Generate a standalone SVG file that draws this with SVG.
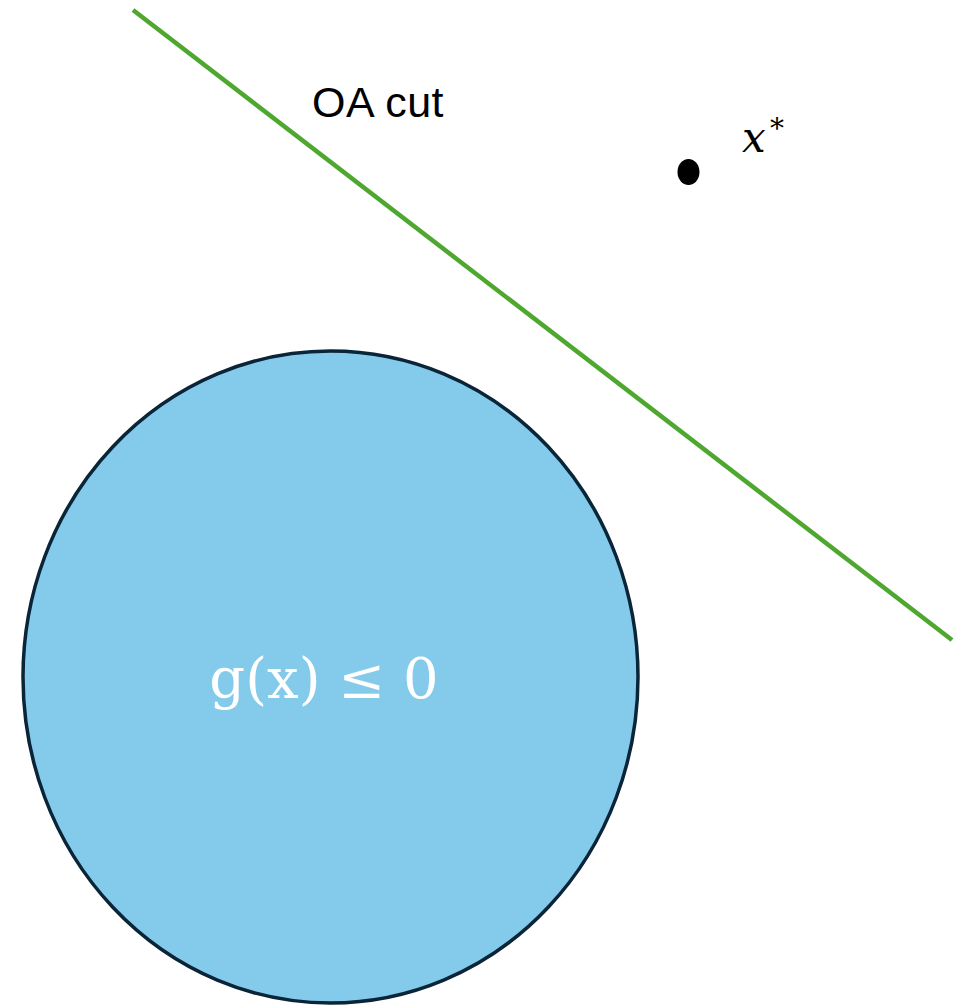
<svg xmlns="http://www.w3.org/2000/svg" width="958" height="1006" viewBox="0 0 958 1006">
<style>
.lbl{font-family:"Liberation Sans",Arial,sans-serif;font-size:43px;fill:#000;letter-spacing:0.5px}
.math{font-family:"DejaVu Serif","Liberation Serif",serif;fill:#fff;font-size:56px}
.var{font-family:"DejaVu Serif","Liberation Serif",serif;font-style:italic;fill:#000}
</style>
<rect width="958" height="1006" fill="#fff"/>
<g id="connectors">
<line x1="133" y1="10" x2="952" y2="640" stroke="#4ea72e" stroke-width="4.5"/>
</g>
<g id="region">
<ellipse cx="330.5" cy="677" rx="307.5" ry="326" fill="#83caeb" stroke="#0a2438" stroke-width="3.5"/>
<text class="math" x="324" y="698" text-anchor="middle">g(x) ≤ 0</text>
</g>
<g id="cut-label">
<text class="lbl" x="312" y="117">OA cut</text>
</g>
<g id="point">
<ellipse cx="688.5" cy="172" rx="11" ry="13" fill="#000"/>
<text class="var" x="742" y="152" font-size="42">x</text>
<text class="var" x="770" y="138" font-size="28" font-style="normal">*</text>
</g>
</svg>
